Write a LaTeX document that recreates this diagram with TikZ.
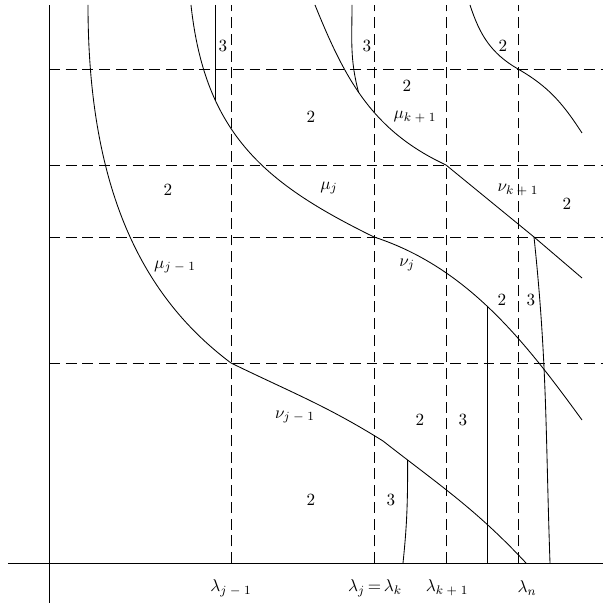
\documentclass[11pt,tikz,border=0pt]{standalone}

\begin{document}
\begin{tikzpicture}[x=0.225cm, y=0.225cm, line width=0.55pt]
    % 通用样式
    \tikzstyle{line_grid} = [dash pattern=on 7pt off 3.7pt]
    \tikzstyle{line_curve} = [line width=0.55pt]
    \tikzstyle{node_lab} = [inner sep=1pt]

    \useasboundingbox (-4.9,-4.0) rectangle (55.4,56.3);

    % ================= 坐标轴 =================
    \draw (-4.1,0) -- (55.4,0);
    \draw (0,-4.0) -- (0,55.8);

    % ================= 虚线网格 =================
    \foreach \x in {18.2,32.5,39.7,46.9} {
        \draw[line_grid] (\x,0) -- (\x,55.8);
    }
    \foreach \y in {20.0,32.6,39.8,49.4} {
        \draw[line_grid] (0,\y) -- (55.4,\y);
    }

    % 横轴标记
    \node (lam1) at (18.2,-2.5) {$\lambda_{j\;-\;1}$};
    \node (lam2) at (32.6,-2.5) {$\lambda_j\,{=}\,\lambda_k$};
    \node (lam3) at (39.8,-2.5) {$\lambda_{k\;+\;1}$};
    \node (lamn) at (47.8,-2.5) {$\lambda_n$};

    % ================= 曲线 =================
    % mu_{j-1} / nu_{j-1}
    \draw[line_curve] (3.9,55.8) .. controls (3.9,36) and (10.2,26) .. (18.2,20.0)
        to[out=-26, in=148] (33.4,12.2)
        to[out=-38, in=133] coordinate[pos=0.15] (a5) (47.7,0);

    % mu_j / nu_j
    \draw[line_curve] (14.2,55.8) .. controls (15.6,42.8) and (21.7,37.9) .. coordinate[pos=0.29] (b1) (32.5,32.6)
        to[out=-18, in=126, looseness=0.9] coordinate[pos=0.48] (b4) (53.3,14.3);

    % mu_{k+1} / nu_{k+1}
    \draw[line_curve] (26.6,55.8) to[out=-68, in=155] coordinate[pos=0.45] (c2) (39.7,39.8)
        -- (48.5,32.6) coordinate (c3) -- (53.3,28.5);

    % 右上角
    \draw[line_curve] (42.1,55.8) to[out=-72, in=150] (46.9,49.4) to[out=-30, in=123] (53.3,43.0);

    % 竖线
    \draw[line_curve] (b1 |- 0,55.8) -- (b1);
    \draw[line_curve] (30.3,55.8) to[out=-90, in=105] (c2);
    \draw[line_curve] (c3) to[out=-84, in=92] (50.1,0);
    \draw[line_curve] (b4) -- (b4 |- 0,0);
    \draw[line_curve] (a5) to[out=-90, in=84] (35.4,0);

    % ================= 标注 =================
    \foreach \x/\y [count=\i] in {45.4/51.7, 35.8/47.7, 26.2/44.6, 11.9/37.3, 51.8/35.9, 45.3/26.3, 37.1/14.3, 26.2/6.3} {
        \node[node_lab] (two\i) at (\x,\y) {2};
    }
    \foreach \x/\y [count=\i] in {17.4/51.7, 31.8/51.7, 48.2/26.3, 41.4/14.3, 34.2/6.3} {
        \node[node_lab] (three\i) at (\x,\y) {3};
    }

    \node[node_lab] (mu1) at (12.6,29.6) {$\mu_{j\;-\;1}$};
    \node[node_lab] (mu2) at (28.0,37.5) {$\mu_j$};
    \node[node_lab] (mu3) at (36.6,44.6) {$\mu_{k\;+\;1}$};
    \node[node_lab] (nu1) at (24.6,14.6) {$\nu_{j\;-\;1}$};
    \node[node_lab] (nu2) at (35.8,29.8) {$\nu_j$};
    \node[node_lab] (nu3) at (46.9,37.3) {$\nu_{k\;+\;1}$};

\end{tikzpicture}
\end{document}
